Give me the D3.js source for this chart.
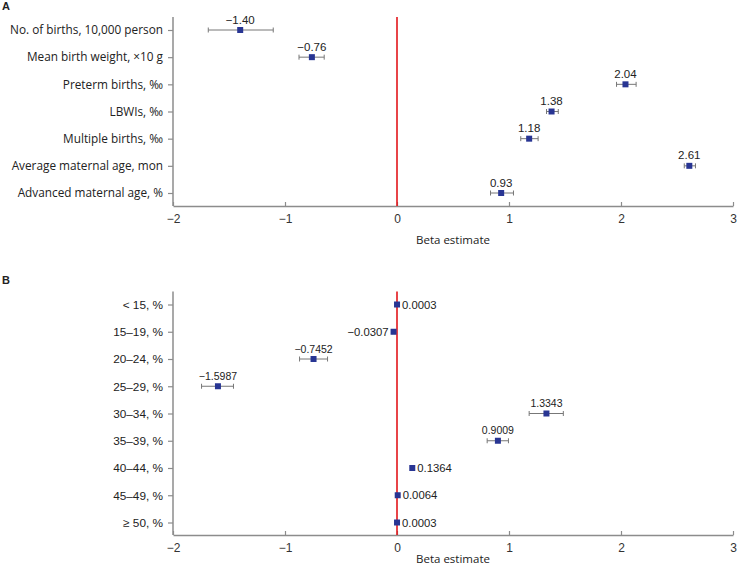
<!DOCTYPE html>
<html>
<head>
<meta charset="utf-8">
<script src="https://cdn.jsdelivr.net/npm/d3@7"></script>
<style>
  body { margin: 0; background: #fff; }
  svg { display: block; }
</style>
</head>
<body>
<svg id="chart" width="739" height="573"></svg>
<script>
// ---------- DATA ----------
const xTicks = [-2, -1, 0, 1, 2, 3];

const catsA = ["No. of births, 10,000 person", "Mean birth weight, \u00d710 g", "Preterm births, \u2030", "LBWIs, \u2030", "Multiple births, \u2030", "Average maternal age, mon", "Advanced maternal age, %"];
const estA  = [-1.40, -0.76, 2.04, 1.38, 1.18, 2.61, 0.93];
const lowA  = [-1.685, -0.875, 1.96, 1.335, 1.105, 2.565, 0.835];
const highA = [-1.105, -0.65, 2.135, 1.44, 1.26, 2.665, 1.04];

const catsB = ["< 15, %", "15\u201319, %", "20\u201324, %", "25\u201329, %", "30\u201334, %", "35\u201339, %", "40\u201344, %", "45\u201349, %", "\u2265 50, %"];
const estB  = [0.0003, -0.0307, -0.7452, -1.5987, 1.3343, 0.9009, 0.1364, 0.0064, 0.0003];
const lowB  = [-0.004, -0.042, -0.87, -1.745, 1.18, 0.805, 0.126, -0.004, -0.003];
const highB = [0.005, -0.019, -0.62, -1.46, 1.485, 0.995, 0.147, 0.017, 0.004];

// ---------- DRAW ----------
const svg = d3.select("#chart");
const AXIS = "#8c8c8c", BAR = "#777", MARK = "#283593", RED = "#e3161b";
const NUMFONT = "'Liberation Sans', Arial, sans-serif";
const LABFONT = "'Open Sans', 'Noto Sans', sans-serif";

function panel(opts) {
  const { letter, letterY, cats, est, low, high, top, rowFirst, rowLast, bottom,
          yFont, yFontSize, valFontSize, sideFontSize, decimals, titleOffset } = opts;
  const x = d3.scaleLinear().domain([-2, 3]).range([173, 733]);
  const y = d3.scalePoint().domain(cats).range([rowFirst, rowLast]);
  const g = svg.append("g");

  g.append("text").attr("x", 2).attr("y", letterY).text(letter)
    .attr("font-family", "'Liberation Sans', Arial, sans-serif")
    .attr("font-weight", "bold").attr("font-size", 11).attr("fill", "#222");

  // y axis
  const yAx = g.append("g").attr("transform", `translate(${x(-2)},0)`)
    .call(d3.axisLeft(y).tickSize(5).tickSizeOuter(0).tickPadding(5));
  yAx.select(".domain").remove();
  yAx.selectAll(".tick line").attr("stroke", AXIS).attr("stroke-width", 1.2);
  yAx.selectAll(".tick text").attr("font-family", yFont).attr("font-size", yFontSize).attr("fill", "#222");
  g.append("line").attr("x1", x(-2)).attr("x2", x(-2)).attr("y1", top).attr("y2", bottom)
    .attr("stroke", AXIS).attr("stroke-width", 1.5);

  // x axis
  const xAx = g.append("g").attr("transform", `translate(0,${bottom})`)
    .call(d3.axisBottom(x).tickValues(xTicks).tickFormat(d3.format("d"))
      .tickSize(-4).tickSizeOuter(0).tickPadding(8));
  xAx.select(".domain").attr("stroke", AXIS).attr("stroke-width", 1.5);
  xAx.selectAll(".tick line").attr("stroke", AXIS).attr("stroke-width", 1.2);
  xAx.selectAll(".tick text").attr("font-family", NUMFONT).attr("font-size", 12).attr("fill", "#333");

  g.append("text").attr("x", (x(-2) + x(3)) / 2).attr("y", bottom + titleOffset)
    .attr("text-anchor", "middle").attr("font-family", LABFONT).attr("font-size", 11.5)
    .attr("fill", "#222").text("Beta estimate");

  // reference line at 0
  g.append("line").attr("x1", x(0)).attr("x2", x(0)).attr("y1", top).attr("y2", bottom)
    .attr("stroke", RED).attr("stroke-width", 1.6);

  const data = cats.map((c, i) => ({ c, e: est[i], lo: low[i], hi: high[i] }));
  const rows = g.selectAll("g.row").data(data).join("g").attr("class", "row");
  rows.append("line").attr("x1", d => x(d.lo)).attr("x2", d => x(d.hi))
    .attr("y1", d => y(d.c)).attr("y2", d => y(d.c)).attr("stroke", BAR).attr("stroke-width", 1);
  rows.append("line").attr("x1", d => x(d.lo)).attr("x2", d => x(d.lo))
    .attr("y1", d => y(d.c) - 2.5).attr("y2", d => y(d.c) + 2.5).attr("stroke", BAR).attr("stroke-width", 1);
  rows.append("line").attr("x1", d => x(d.hi)).attr("x2", d => x(d.hi))
    .attr("y1", d => y(d.c) - 2.5).attr("y2", d => y(d.c) + 2.5).attr("stroke", BAR).attr("stroke-width", 1);
  rows.append("rect").attr("x", d => x(d.e) - 3).attr("y", d => y(d.c) - 3)
    .attr("width", 6).attr("height", 6).attr("fill", MARK);

  const fmt = v => v.toFixed(decimals).replace("-", "\u2212");
  rows.append("text")
    .each(function (d) {
      const t = d3.select(this);
      const wide = (x(d.hi) - x(d.lo)) > 8;
      t.text(fmt(d.e)).attr("font-family", NUMFONT).attr("fill", "#222");
      if (wide) {
        t.attr("x", x(d.e)).attr("y", y(d.c) - 6.5).attr("text-anchor", "middle").attr("font-size", valFontSize);
      } else if (d.e >= 0) {
        t.attr("x", x(d.e) + 5).attr("y", y(d.c) + 4).attr("text-anchor", "start").attr("font-size", sideFontSize);
      } else {
        t.attr("x", x(d.e) - 5).attr("y", y(d.c) + 4).attr("text-anchor", "end").attr("font-size", sideFontSize);
      }
    });
}

panel({ letter: "A", letterY: 10, cats: catsA, est: estA, low: lowA, high: highA,
        top: 17, rowFirst: 30, rowLast: 193, bottom: 206,
        yFont: LABFONT, yFontSize: 11.8, valFontSize: 11.5, sideFontSize: 11.5, decimals: 2, titleOffset: 38 });

panel({ letter: "B", letterY: 284, cats: catsB, est: estB, low: lowB, high: highB,
        top: 291.5, rowFirst: 304.5, rowLast: 522.5, bottom: 535,
        yFont: NUMFONT, yFontSize: 11.8, valFontSize: 10.5, sideFontSize: 11.3, decimals: 4, titleOffset: 28 });
</script>
</body>
</html>
